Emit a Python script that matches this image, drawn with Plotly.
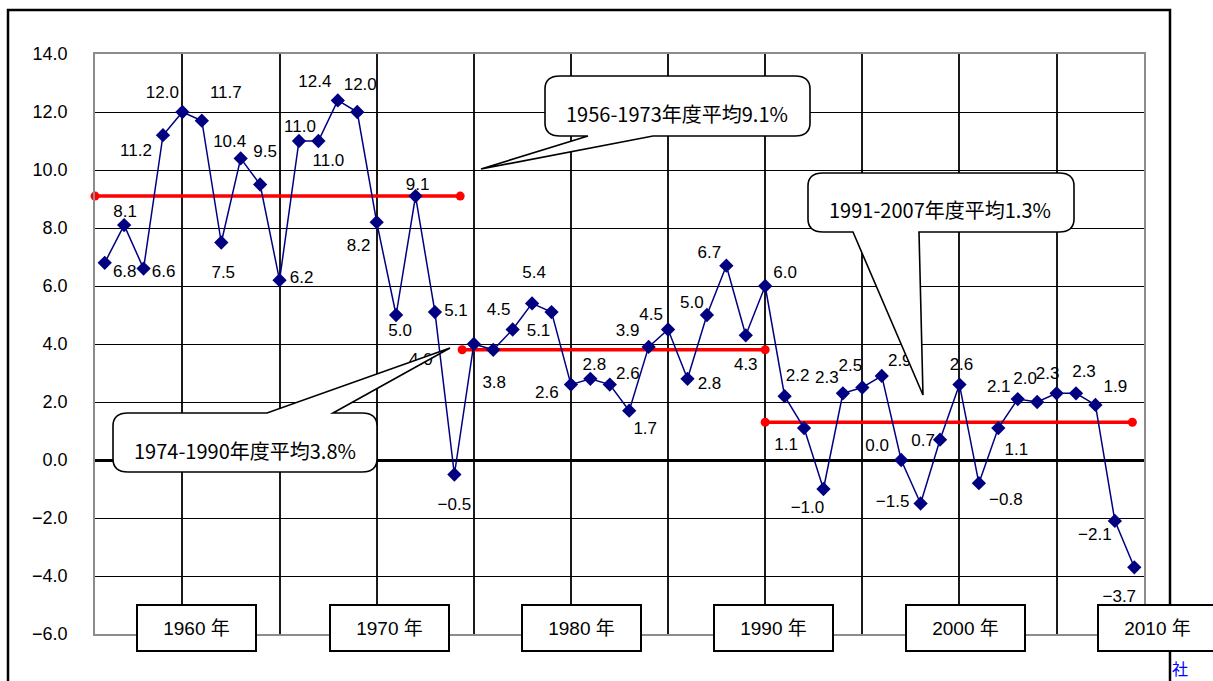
import plotly.graph_objects as go

# Real GDP growth rate by fiscal year (%)
years = list(range(1956, 2010))
growth = [
    6.8, 8.1, 6.6, 11.2, 12.0, 11.7, 7.5, 10.4, 9.5, 6.2,
    11.0, 11.0, 12.4, 12.0, 8.2, 5.0, 9.1, 5.1, -0.5, 4.0,
    3.8, 4.5, 5.4, 5.1, 2.6, 2.8, 2.6, 1.7, 3.9, 4.5,
    2.8, 5.0, 6.7, 4.3, 6.0, 2.2, 1.1, -1.0, 2.3, 2.5,
    2.9, 0.0, -1.5, 0.7, 2.6, -0.8, 1.1, 2.1, 2.0, 2.3,
    2.3, 1.9, -2.1, -3.7,
]

# Period averages (span of each average line and its value)
avg_start = [1955.5, 1974.4, 1990.0]
avg_end = [1974.3, 1990.0, 2008.9]
avg_value = [9.1, 3.8, 1.3]
avg_text = ["1956-1973年度平均9.1%", "1974-1990年度平均3.8%", "1991-2007年度平均1.3%"]

decade_labels = ["1960 年", "1970 年", "1980 年", "1990 年", "2000 年", "2010 年"]

X_RANGE = [1955.5, 2009.5]
Y_RANGE = [-6, 14]

W, H = 1213, 681
L, R, T, B = 95, 1144, 54, 634
PPX = (R - L) / (X_RANGE[1] - X_RANGE[0])
PPY = (B - T) / (Y_RANGE[1] - Y_RANGE[0])


def px(x):
    return (x - L) / (R - L)


def py(y):
    return (B - y) / (B - T)


def fmt(v):
    s = f"{abs(v):.1f}"
    return ("\u2212" + s) if v < 0 else s


# Pixel offsets of each value label from its marker (dx right, dy down)
label_offsets = [
    (20, 10), (1, -12), (20, 4), (-27, 17), (-20, -18), (24, -27), (2, 31), (-11, -16),
    (5, -32), (22, -1), (1, -13), (10, 21), (-23, -18), (3, -26), (-18, 25), (4, 17),
    (2, -10), (21, 0), (0, 31), (-53, 17), (1, 34), (-14, -19), (2, -30), (-13, 20),
    (-24, 9), (4, -13), (18, -10), (16, 19), (-21, -15), (-17, -14), (22, 6), (-15, -11),
    (-17, -12), (0, 30), (20, -12), (13, -19), (-18, 18), (-16, 20), (-16, -15), (-12, -21),
    (18, -14), (-24, -13), (-28, -1), (-17, 2), (2, -19), (27, 18), (18, 23), (-19, -11),
    (-12, -22), (-9, -19), (8, -21), (20, -17), (-20, 15), (-15, 30),
]

NAVY = "#000080"
fig = go.Figure()

# period average lines
for s, e, v in zip(avg_start, avg_end, avg_value):
    fig.add_trace(go.Scatter(
        x=[s, e], y=[v, v], mode="lines+markers",
        line=dict(color="#ff0000", width=3.5),
        marker=dict(color="#ff0000", size=9, symbol="circle"),
        cliponaxis=False, hoverinfo="skip", showlegend=False,
    ))

# growth series
fig.add_trace(go.Scatter(
    x=years, y=growth, mode="lines+markers",
    line=dict(color=NAVY, width=1.5),
    marker=dict(color=NAVY, size=11, symbol="diamond"),
    showlegend=False,
))

# value labels
lx = [x + dx / PPX for x, (dx, dy) in zip(years, label_offsets)]
ly = [y - dy / PPY for y, (dx, dy) in zip(growth, label_offsets)]
fig.add_trace(go.Scatter(
    x=lx, y=ly, mode="text", text=[fmt(v) for v in growth],
    textposition="middle center",
    textfont=dict(family="Liberation Sans Narrow, Arial Narrow, Liberation Sans, Arial",
                  size=17, color="#000000"),
    cliponaxis=False, hoverinfo="skip", showlegend=False,
))


def callout_path(x0, y0, x1, y1, edge, ta, tb, tip, rx=15, ry=13):
    pts = []
    pts.append(("M", (x0 + rx, y0)))
    if edge == "top":
        pts += [("L", (ta, y0)), ("L", tip), ("L", (tb, y0))]
    pts.append(("L", (x1 - rx, y0)))
    pts.append(("Q", (x1, y0), (x1, y0 + ry)))
    pts.append(("L", (x1, y1 - ry)))
    pts.append(("Q", (x1, y1), (x1 - rx, y1)))
    if edge == "bottom":
        pts += [("L", (tb, y1)), ("L", tip), ("L", (ta, y1))]
    pts.append(("L", (x0 + rx, y1)))
    pts.append(("Q", (x0, y1), (x0, y1 - ry)))
    pts.append(("L", (x0, y0 + ry)))
    pts.append(("Q", (x0, y0), (x0 + rx, y0)))
    out = []
    for cmd, *ps in pts:
        out.append(cmd + " ".join(f"{px(a):.5f},{py(b):.5f}" for a, b in ps))
    return " ".join(out) + " Z"


callouts = [
    # box (x0, y0, x1, y1), tail edge, tail base, tip, text centre
    ((545, 76, 810, 136), "bottom", (588, 653), (481, 169), (677, 113)),
    ((113, 413, 377, 472), "top", (267, 333), (450, 348), (245, 450)),
    ((808, 173, 1074, 232), "bottom", (853, 919), (923, 395), (940, 209)),
]

shapes = []
annotations = []
for (box, edge, (ta, tb), tip, (tx, ty)), txt in zip(callouts, avg_text):
    shapes.append(dict(
        type="path", xref="paper", yref="paper", layer="above",
        path=callout_path(*box, edge, ta, tb, tip),
        line=dict(color="#000000", width=1.6), fillcolor="#ffffff",
    ))
    annotations.append(dict(
        x=px(tx), y=py(ty), xref="paper", yref="paper", text=txt, showarrow=False,
        xanchor="center", yanchor="middle",
        font=dict(family="Noto Sans CJK JP", size=20, color="#000000"),
    ))

# decade label boxes along the bottom
box_lefts = [136, 329, 521, 713, 905, 1097]
for lbl, bx in zip(decade_labels, box_lefts):
    annotations.append(dict(
        x=px(bx), y=py(604), xref="paper", yref="paper", text=lbl, showarrow=False,
        xanchor="left", yanchor="top", width=117, height=44,
        bgcolor="#ffffff", bordercolor="#000000", borderwidth=2, borderpad=0,
        align="center", valign="middle",
        font=dict(family="Liberation Sans, Noto Sans CJK JP", size=19, color="#000000"),
    ))

# outer frame
shapes.append(dict(
    type="path", xref="paper", yref="paper", layer="below",
    path=f"M{px(8)},{py(690)} L{px(8)},{py(10)} L{px(1170)},{py(10)} L{px(1170)},{py(690)}",
    line=dict(color="#000000", width=2.5),
))

annotations.append(dict(
    x=px(1171), y=py(681), xref="paper", yref="paper", text="社", showarrow=False,
    xanchor="left", yanchor="bottom", borderpad=0,
    font=dict(family="Noto Sans CJK JP", size=16, color="#0000ff"),
))

fig.update_layout(
    width=W, height=H,
    margin=dict(l=L, r=W - R, t=T, b=H - B, pad=0),
    paper_bgcolor="#ffffff", plot_bgcolor="#ffffff",
    shapes=shapes, annotations=annotations,
    xaxis=dict(
        range=X_RANGE, tickvals=list(range(1960, 2010, 5)), showticklabels=False,
        showgrid=True, gridcolor="#1a1a1a", gridwidth=1.8,
        showline=True, linecolor="#8c8c8c", linewidth=1.5, mirror=True,
        zeroline=False, ticks="",
    ),
    yaxis=dict(
        range=Y_RANGE, dtick=2, tickformat=".1f",
        showgrid=True, gridcolor="#000000", gridwidth=1,
        showline=True, linecolor="#8c8c8c", linewidth=1.5, mirror=True,
        zeroline=True, zerolinecolor="#000000", zerolinewidth=3,
        ticks="", ticklabelstandoff=22,
        tickfont=dict(family="Liberation Sans, Arial", size=18, color="#000000"),
    ),
)

fig.write_html("out.html")
